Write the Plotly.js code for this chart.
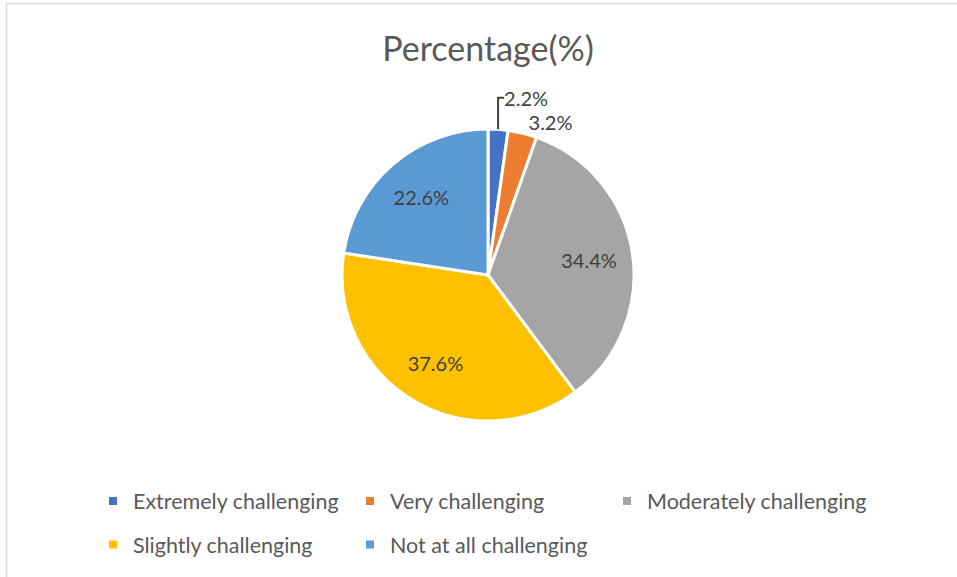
<!DOCTYPE html>
<html>
<head>
<meta charset="utf-8">
<script src="https://cdn.plot.ly/plotly-3.0.1.min.js"></script>
<style>
html,body{margin:0;padding:0;background:#fff;}
#chart{width:957px;height:577px;}
</style>
</head>
<body>
<div id="chart"></div>
<script>
// ---- data ----
const categories = ["Extremely challenging", "Very challenging", "Moderately challenging", "Slightly challenging", "Not at all challenging"];
const percentages = [2.2, 3.2, 34.4, 37.6, 22.6];
const colors = ["#4472C4", "#ED7D31", "#A5A5A5", "#FFC000", "#5B9BD5"];
const labelPositions = ["outside", "outside", "inside", "inside", "inside"];
const chartTitle = "Percentage(%)";

const W = 957, H = 577;
const FONT = "Lato, 'Liberation Sans', sans-serif";
const pieDomain = {x: [(488 - 300) / W, (488 + 300) / W], y: [1 - 421 / H, 1 - 129 / H]};

// main pie: the coloured slices
const pie = {
  type: "pie",
  labels: categories,
  values: percentages,
  sort: false,
  direction: "clockwise",
  rotation: 0,
  marker: {colors: colors, line: {color: "#ffffff", width: 3}},
  textinfo: "none",
  domain: pieDomain,
  showlegend: false,
  hoverinfo: "label+value"
};

// same pie, transparent, with a hole so that the data labels sit further out
const labelPie = {
  type: "pie",
  labels: categories,
  values: percentages,
  sort: false,
  direction: "clockwise",
  rotation: 0,
  hole: 0.4,
  marker: {colors: categories.map(() => "rgba(0,0,0,0)"), line: {width: 0}},
  texttemplate: "%{value:.1f}%",
  textposition: labelPositions,
  insidetextorientation: "horizontal",
  textfont: {family: FONT, size: 20, color: "#404040"},
  outsidetextfont: {family: FONT, size: 20, color: "#404040"},
  insidetextfont: {family: FONT, size: 20, color: "#404040"},
  domain: pieDomain,
  showlegend: false,
  hoverinfo: "skip"
};

// legend entries (one per category), drawn by Plotly's legend
const legendIds = ["legend", "legend2", "legend3", "legend4", "legend5"];
const legendTraces = categories.map((c, i) => ({
  type: "scatter",
  x: [null], y: [null],
  mode: "markers",
  name: c,
  marker: {symbol: "square", size: 8, color: colors[i]},
  legend: legendIds[i],
  showlegend: true,
  hoverinfo: "skip"
}));

// legend anchor positions (pixels: symbol center x, row center y)
const legendSlots = [[113, 501], [370, 501], [627, 501], [113, 544.5], [370, 544.5]];
function legendBox(slot) {
  return {
    orientation: "v",
    x: (slot[0] - 20) / W, xanchor: "left",
    y: 1 - slot[1] / H, yanchor: "middle",
    bgcolor: "rgba(0,0,0,0)", borderwidth: 0,
    font: {family: FONT, size: 21.5, color: "#595959"}
  };
}

const layout = {
  width: W, height: H,
  margin: {l: 0, r: 0, t: 0, b: 0},
  paper_bgcolor: "#ffffff",
  plot_bgcolor: "#ffffff",
  title: {
    text: chartTitle,
    x: 488 / W, xanchor: "center",
    y: 1 - 49 / H, yanchor: "middle",
    font: {family: FONT, size: 34, color: "#595959"}
  },
  xaxis: {visible: false},
  yaxis: {visible: false},
  shapes: [{
    type: "path", xref: "paper", yref: "paper",
    path: `M ${6.5 / W} 0 L ${6.5 / W} ${1 - 3.5 / H} L 1 ${1 - 3.5 / H}`,
    line: {color: "#D9D9D9", width: 1.5}
  }],
  showlegend: true
};
legendIds.forEach((id, i) => { layout[id] = legendBox(legendSlots[i]); });

Plotly.newPlot("chart", [pie, labelPie].concat(legendTraces), layout, {displayModeBar: false, staticPlot: true});
</script>
</body>
</html>
